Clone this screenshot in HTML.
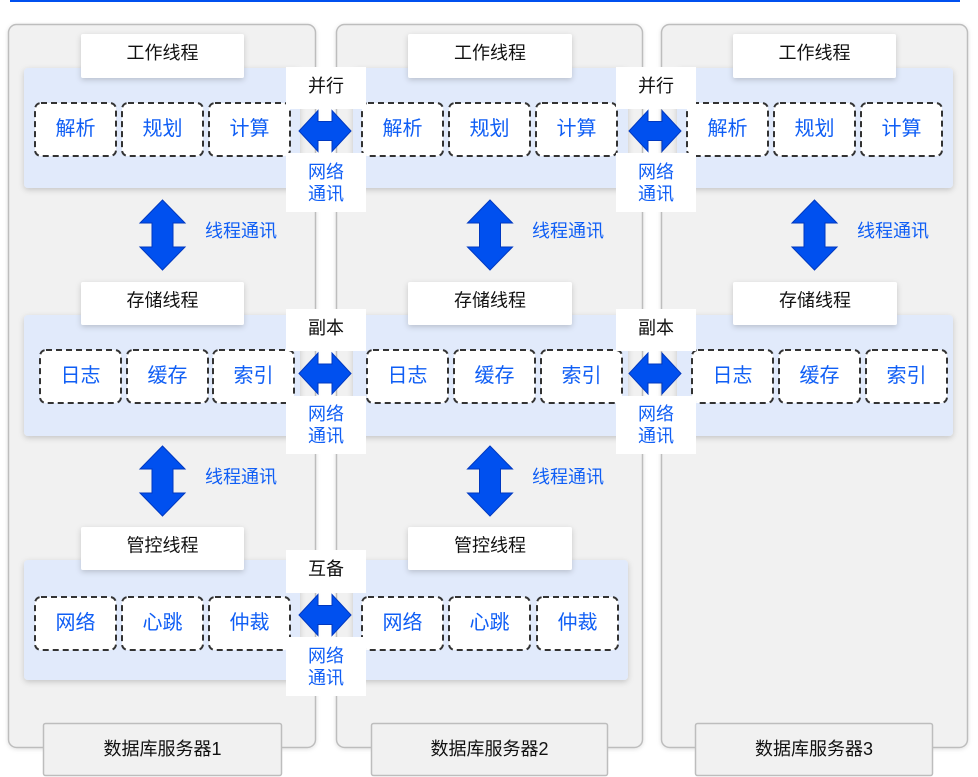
<!DOCTYPE html>
<html>
<head>
<meta charset="utf-8">
<style>
  html,body{margin:0;padding:0;background:#fff;}
  body{width:978px;height:777px;overflow:hidden;}
  svg{display:block;}
  text{font-family:"Liberation Sans","Noto Sans CJK SC",sans-serif;}
  .t{font-size:18px;fill:#111;}
  .b{font-size:18px;fill:#0f5ef5;}
  .d{font-size:20px;fill:#0f5ef5;}
</style>
</head>
<body>
<svg width="978" height="777" viewBox="0 0 978 777" xmlns="http://www.w3.org/2000/svg">
  <defs>
    <filter id="sh" x="-10%" y="-20%" width="120%" height="150%">
      <feDropShadow dx="0" dy="2" stdDeviation="3" flood-color="#000" flood-opacity="0.18"/>
    </filter>
    <filter id="sh2" x="-10%" y="-20%" width="120%" height="150%">
      <feDropShadow dx="0" dy="1" stdDeviation="2" flood-color="#000" flood-opacity="0.12"/>
    </filter>
  </defs>

  <!-- top blue line -->
  <rect x="10" y="0" width="950" height="2" fill="#0050ef"/>

  <!-- servers -->
  <rect x="8.5" y="24.5" width="307" height="723" rx="8" fill="#f1f1f1" stroke="#bdbdbd" stroke-width="1.5" filter="url(#sh2)"/>
  <rect x="336.5" y="24.5" width="306" height="723" rx="8" fill="#f1f1f1" stroke="#bdbdbd" stroke-width="1.5" filter="url(#sh2)"/>
  <rect x="661.5" y="24.5" width="306" height="723" rx="8" fill="#f1f1f1" stroke="#bdbdbd" stroke-width="1.5" filter="url(#sh2)"/>

  <!-- footers -->
  <rect x="43.5" y="723.5" width="238" height="52" rx="2" fill="#f1f1f1" stroke="#bdbdbd" stroke-width="1.5"/>
  <text class="t" x="162.5" y="749" text-anchor="middle" dominant-baseline="central">数据库服务器1</text>
  <rect x="371.5" y="723.5" width="236" height="52" rx="2" fill="#f1f1f1" stroke="#bdbdbd" stroke-width="1.5"/>
  <text class="t" x="489.5" y="749" text-anchor="middle" dominant-baseline="central">数据库服务器2</text>
  <rect x="695.5" y="723.5" width="237" height="52" rx="2" fill="#f1f1f1" stroke="#bdbdbd" stroke-width="1.5"/>
  <text class="t" x="814" y="749" text-anchor="middle" dominant-baseline="central">数据库服务器3</text>

  <!-- panels -->
  <g fill="#e1eafb" filter="url(#sh)">
    <rect x="24" y="68" width="276" height="120" rx="4"/>
    <rect x="353" y="68" width="275" height="120" rx="4"/>
    <rect x="677" y="68" width="276" height="120" rx="4"/>
    <rect x="24" y="315" width="276" height="121" rx="4"/>
    <rect x="353" y="315" width="275" height="121" rx="4"/>
    <rect x="677" y="315" width="276" height="121" rx="4"/>
    <rect x="24" y="560" width="276" height="120" rx="4"/>
    <rect x="353" y="560" width="275" height="120" rx="4"/>
  </g>

  <!-- title boxes -->
  <g fill="#ffffff" filter="url(#sh)">
    <rect x="81" y="34" width="163" height="44" rx="2"/>
    <rect x="408" y="34" width="164" height="44" rx="2"/>
    <rect x="733" y="34" width="163" height="44" rx="2"/>
    <rect x="81" y="282" width="163" height="43" rx="2"/>
    <rect x="408" y="282" width="164" height="43" rx="2"/>
    <rect x="733" y="282" width="164" height="43" rx="2"/>
    <rect x="81" y="527" width="163" height="43" rx="2"/>
    <rect x="408" y="527" width="164" height="43" rx="2"/>
  </g>
  <text class="t" x="162.5" y="53" text-anchor="middle" dominant-baseline="central">工作线程</text>
  <text class="t" x="490" y="53" text-anchor="middle" dominant-baseline="central">工作线程</text>
  <text class="t" x="814.5" y="53" text-anchor="middle" dominant-baseline="central">工作线程</text>
  <text class="t" x="162.5" y="300.5" text-anchor="middle" dominant-baseline="central">存储线程</text>
  <text class="t" x="490" y="300.5" text-anchor="middle" dominant-baseline="central">存储线程</text>
  <text class="t" x="815" y="300.5" text-anchor="middle" dominant-baseline="central">存储线程</text>
  <text class="t" x="162.5" y="545.5" text-anchor="middle" dominant-baseline="central">管控线程</text>
  <text class="t" x="490" y="545.5" text-anchor="middle" dominant-baseline="central">管控线程</text>

  <!-- dashed boxes -->
  <g fill="#ffffff" stroke="#333" stroke-width="2" stroke-dasharray="6 4">
    <rect x="35" y="103" width="81" height="53" rx="6"/>
    <rect x="122" y="103" width="81" height="53" rx="6"/>
    <rect x="209" y="103" width="81" height="53" rx="6"/>
    <rect x="362" y="103" width="81" height="53" rx="6"/>
    <rect x="449" y="103" width="81" height="53" rx="6"/>
    <rect x="536" y="103" width="81" height="53" rx="6"/>
    <rect x="687" y="103" width="81" height="53" rx="6"/>
    <rect x="774" y="103" width="81" height="53" rx="6"/>
    <rect x="861" y="103" width="81" height="53" rx="6"/>
    <rect x="40" y="350" width="81" height="53" rx="6"/>
    <rect x="127" y="350" width="81" height="53" rx="6"/>
    <rect x="213" y="350" width="81" height="53" rx="6"/>
    <rect x="367" y="350" width="81" height="53" rx="6"/>
    <rect x="454" y="350" width="81" height="53" rx="6"/>
    <rect x="541" y="350" width="81" height="53" rx="6"/>
    <rect x="692" y="350" width="81" height="53" rx="6"/>
    <rect x="779" y="350" width="81" height="53" rx="6"/>
    <rect x="866" y="350" width="81" height="53" rx="6"/>
    <rect x="35" y="597" width="81" height="53" rx="6"/>
    <rect x="122" y="597" width="81" height="53" rx="6"/>
    <rect x="209" y="597" width="81" height="53" rx="6"/>
    <rect x="362" y="597" width="81" height="53" rx="6"/>
    <rect x="449" y="597" width="81" height="53" rx="6"/>
    <rect x="537" y="597" width="81" height="53" rx="6"/>
  </g>
  <text class="d" x="75.5" y="129" text-anchor="middle" dominant-baseline="central">解析</text>
  <text class="d" x="162.5" y="129" text-anchor="middle" dominant-baseline="central">规划</text>
  <text class="d" x="249.5" y="129" text-anchor="middle" dominant-baseline="central">计算</text>
  <text class="d" x="402.5" y="129" text-anchor="middle" dominant-baseline="central">解析</text>
  <text class="d" x="489.5" y="129" text-anchor="middle" dominant-baseline="central">规划</text>
  <text class="d" x="576.5" y="129" text-anchor="middle" dominant-baseline="central">计算</text>
  <text class="d" x="727.5" y="129" text-anchor="middle" dominant-baseline="central">解析</text>
  <text class="d" x="814.5" y="129" text-anchor="middle" dominant-baseline="central">规划</text>
  <text class="d" x="901.5" y="129" text-anchor="middle" dominant-baseline="central">计算</text>

  <text class="d" x="80.5" y="376" text-anchor="middle" dominant-baseline="central">日志</text>
  <text class="d" x="167.5" y="376" text-anchor="middle" dominant-baseline="central">缓存</text>
  <text class="d" x="253.5" y="376" text-anchor="middle" dominant-baseline="central">索引</text>
  <text class="d" x="407.5" y="376" text-anchor="middle" dominant-baseline="central">日志</text>
  <text class="d" x="494.5" y="376" text-anchor="middle" dominant-baseline="central">缓存</text>
  <text class="d" x="581.5" y="376" text-anchor="middle" dominant-baseline="central">索引</text>
  <text class="d" x="732.5" y="376" text-anchor="middle" dominant-baseline="central">日志</text>
  <text class="d" x="819.5" y="376" text-anchor="middle" dominant-baseline="central">缓存</text>
  <text class="d" x="906.5" y="376" text-anchor="middle" dominant-baseline="central">索引</text>

  <text class="d" x="75.5" y="623" text-anchor="middle" dominant-baseline="central">网络</text>
  <text class="d" x="162.5" y="623" text-anchor="middle" dominant-baseline="central">心跳</text>
  <text class="d" x="249.5" y="623" text-anchor="middle" dominant-baseline="central">仲裁</text>
  <text class="d" x="402.5" y="623" text-anchor="middle" dominant-baseline="central">网络</text>
  <text class="d" x="489.5" y="623" text-anchor="middle" dominant-baseline="central">心跳</text>
  <text class="d" x="577.5" y="623" text-anchor="middle" dominant-baseline="central">仲裁</text>

  <!-- connector labels -->
  <g fill="#ffffff">
    <rect x="286" y="67" width="80" height="42"/>
    <rect x="286" y="153" width="80" height="59"/>
    <rect x="616" y="67" width="80" height="42"/>
    <rect x="616" y="153" width="80" height="59"/>
    <rect x="286" y="309" width="80" height="42"/>
    <rect x="286" y="396" width="80" height="58"/>
    <rect x="616" y="309" width="80" height="42"/>
    <rect x="616" y="396" width="80" height="58"/>
    <rect x="286" y="550" width="80" height="43"/>
    <rect x="286" y="637" width="80" height="59"/>
  </g>
  <text class="t" x="326" y="86" text-anchor="middle" dominant-baseline="central">并行</text>
  <text class="t" x="656" y="86" text-anchor="middle" dominant-baseline="central">并行</text>
  <text class="t" x="326" y="328" text-anchor="middle" dominant-baseline="central">副本</text>
  <text class="t" x="656" y="328" text-anchor="middle" dominant-baseline="central">副本</text>
  <text class="t" x="326" y="569" text-anchor="middle" dominant-baseline="central">互备</text>

  <text class="b" x="326" y="172" text-anchor="middle" dominant-baseline="central">网络</text>
  <text class="b" x="326" y="194" text-anchor="middle" dominant-baseline="central">通讯</text>
  <text class="b" x="656" y="172" text-anchor="middle" dominant-baseline="central">网络</text>
  <text class="b" x="656" y="194" text-anchor="middle" dominant-baseline="central">通讯</text>
  <text class="b" x="326" y="414" text-anchor="middle" dominant-baseline="central">网络</text>
  <text class="b" x="326" y="436" text-anchor="middle" dominant-baseline="central">通讯</text>
  <text class="b" x="656" y="414" text-anchor="middle" dominant-baseline="central">网络</text>
  <text class="b" x="656" y="436" text-anchor="middle" dominant-baseline="central">通讯</text>
  <text class="b" x="326" y="656" text-anchor="middle" dominant-baseline="central">网络</text>
  <text class="b" x="326" y="678" text-anchor="middle" dominant-baseline="central">通讯</text>

  <!-- horizontal double arrows -->
  <g fill="#0050ef" stroke="#0038c0" stroke-width="1">
    <path d="M299,131 L318,110.5 L318,121.5 L332,121.5 L332,110.5 L351,131 L332,151.5 L332,140.5 L318,140.5 L318,151.5 Z"/>
    <path d="M629,131 L648,110.5 L648,121.5 L662,121.5 L662,110.5 L681,131 L662,151.5 L662,140.5 L648,140.5 L648,151.5 Z"/>
    <path d="M299,373.5 L318,353 L318,364 L332,364 L332,353 L351,373.5 L332,394 L332,383 L318,383 L318,394 Z"/>
    <path d="M629,373.5 L648,353 L648,364 L662,364 L662,353 L681,373.5 L662,394 L662,383 L648,383 L648,394 Z"/>
    <path d="M299,615 L318,594.5 L318,605.5 L332,605.5 L332,594.5 L351,615 L332,635.5 L332,624.5 L318,624.5 L318,635.5 Z"/>
  </g>

  <!-- vertical double arrows -->
  <g fill="#0050ef" stroke="#0038c0" stroke-width="1">
    <path d="M162.5,200 L185,223 L173,223 L173,247 L185,247 L162.5,270 L140,247 L152,247 L152,223 L140,223 Z"/>
    <path d="M490,200 L512.5,223 L500.5,223 L500.5,247 L512.5,247 L490,270 L467.5,247 L479.5,247 L479.5,223 L467.5,223 Z"/>
    <path d="M814.5,200 L837,223 L825,223 L825,247 L837,247 L814.5,270 L792,247 L804,247 L804,223 L792,223 Z"/>
    <path d="M162.5,446 L185,469 L173,469 L173,493 L185,493 L162.5,516 L140,493 L152,493 L152,469 L140,469 Z"/>
    <path d="M490,446 L512.5,469 L500.5,469 L500.5,493 L512.5,493 L490,516 L467.5,493 L479.5,493 L479.5,469 L467.5,469 Z"/>
  </g>
  <text class="b" x="205" y="231" dominant-baseline="central">线程通讯</text>
  <text class="b" x="532" y="231" dominant-baseline="central">线程通讯</text>
  <text class="b" x="857" y="231" dominant-baseline="central">线程通讯</text>
  <text class="b" x="205" y="477" dominant-baseline="central">线程通讯</text>
  <text class="b" x="532" y="477" dominant-baseline="central">线程通讯</text>
</svg>
</body>
</html>
